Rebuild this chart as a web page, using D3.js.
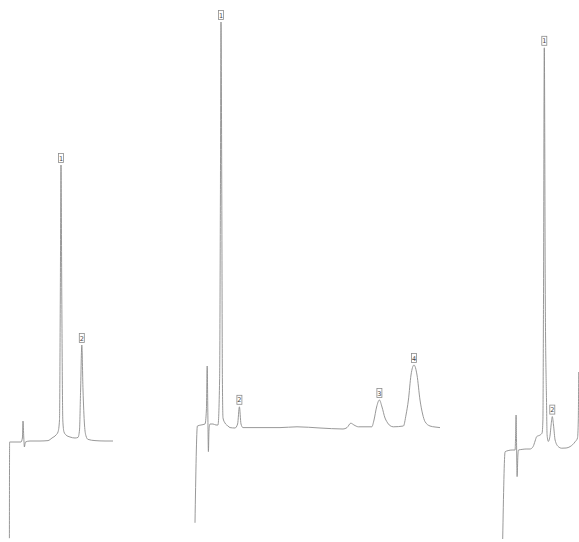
<!DOCTYPE html>
<html>
<head>
<meta charset="utf-8">
<script src="https://cdn.jsdelivr.net/npm/d3@7"></script>
<style>
  html, body { margin: 0; padding: 0; background: #fff; }
  svg { display: block; }
</style>
</head>
<body>
<div id="chart"></div>
<script>
// retention time (min) and signal (mAU)
const trace1 = [
  [0.02, -243], [0.03, -2.5], [0.30, -2.5], [0.60, -2.5], [0.67, 7.5], [0.70, 50],
  [0.74, 7.5], [0.77, -15], [0.82, -2.5], [1.05, 0], [1.55, 0], [1.95, 1],
  [2.15, 7.5], [2.35, 15], [2.45, 22.5], [2.525, 52.5], [2.565, 352.5], [2.60, 690],
  [2.64, 352.5], [2.69, 52.5], [2.75, 22.5], [2.85, 15], [3.05, 10], [3.30, 7.5],
  [3.45, 9], [3.525, 27.5], [3.58, 127.5], [3.64, 240], [3.70, 127.5], [3.775, 40],
  [3.85, 12.5], [3.95, 4], [4.30, 1], [4.80, 0], [5.20, 0]
];

const trace2 = [
  [0.00, -237], [0.12, 5], [0.30, 7.5], [0.50, 10], [0.57, 45], [0.61, 155],
  [0.64, 45], [0.67, -59], [0.70, -5], [0.75, 10], [0.90, 10], [1.05, 7.5],
  [1.15, 7.5], [1.23, 120], [1.27, 570], [1.30, 1015], [1.34, 570], [1.37, 120],
  [1.40, 25], [1.50, 12.5], [1.65, 5], [1.75, 1], [2.00, 0], [2.13, 10],
  [2.22, 53], [2.30, 10], [2.40, 1], [2.60, 1], [3.25, 1], [4.25, 1],
  [5.10, 3], [6.25, 0], [7.40, -2.5], [7.60, 1], [7.79, 12], [7.95, 7.5],
  [8.17, 3], [8.84, 3], [8.95, 20], [9.08, 52.5], [9.22, 70], [9.35, 52.5],
  [9.50, 25], [9.59, 16], [9.75, 6], [9.92, 3], [10.42, 5], [10.55, 32.5],
  [10.67, 70], [10.80, 132.5], [10.95, 157.5], [11.10, 132.5], [11.25, 70], [11.38, 35],
  [11.50, 16], [11.75, 5], [12.00, 2.5], [12.25, 1]
];

const trace3 = [
  [0.00, -225], [0.12, -7], [0.27, -4], [0.47, -2.5], [0.62, -2.5], [0.64, 22.5],
  [0.67, 85], [0.69, 22.5], [0.72, -69], [0.76, -15], [0.79, -2.5], [0.97, -1],
  [1.17, 0], [1.37, 0], [1.52, 6], [1.62, 20], [1.70, 31], [1.87, 35],
  [1.97, 40], [2.01, 72.5], [2.04, 372.5], [2.08, 1003], [2.13, 372.5], [2.19, 122.5],
  [2.22, 35], [2.28, 19], [2.37, 35], [2.42, 60], [2.48, 81], [2.54, 60],
  [2.62, 22.5], [2.78, 6], [2.95, 2], [3.17, 2.5], [3.37, 6], [3.62, 18],
  [3.74, 27.5], [3.78, 72.5], [3.80, 192.5]
];

// peak number, apex time, apex signal
const peaks1 = [["1", 2.60, 690], ["2", 3.64, 240]];
const peaks2 = [["1", 1.30, 1015], ["2", 2.22, 53], ["3", 9.22, 70], ["4", 10.95, 157.5]];
const peaks3 = [["1", 2.08, 1003], ["2", 2.48, 81]];

const width = 579, height = 542;
const pxPerMin = 20, pxPerMau = 0.4;

const panels = [
  { data: trace1, peaks: peaks1, left: 9, base: 441 },
  { data: trace2, peaks: peaks2, left: 195, base: 428 },
  { data: trace3, peaks: peaks3, left: 502.7, base: 449 }
];

const svg = d3.select("#chart").append("svg")
  .attr("width", width)
  .attr("height", height)
  .attr("viewBox", `0 0 ${width} ${height}`);

panels.forEach(p => {
  const tEnd = d3.max(p.data, d => d[0]);
  const x = d3.scaleLinear().domain([0, tEnd]).range([p.left, p.left + tEnd * pxPerMin]);
  const y = d3.scaleLinear().domain([0, 1000]).range([p.base, p.base - 1000 * pxPerMau]);

  const line = d3.line()
    .x(d => x(d[0]))
    .y(d => y(d[1]))
    .curve(d3.curveMonotoneX);

  const g = svg.append("g");

  g.append("path")
    .datum(p.data)
    .attr("fill", "none")
    .attr("stroke", "#8c8c8c")
    .attr("stroke-width", 0.9)
    .attr("stroke-linejoin", "round")
    .attr("d", line);

  // peak number labels in little boxes
  const lab = g.selectAll(".peak")
    .data(p.peaks)
    .join("g")
    .attr("class", "peak")
    .attr("transform", d => `translate(${x(d[1])},${y(d[2]) - 2})`);

  lab.append("rect")
    .attr("x", -2.5)
    .attr("y", -9.5)
    .attr("width", 5)
    .attr("height", 9)
    .attr("fill", "#fff")
    .attr("stroke", "#8c8c8c")
    .attr("stroke-width", 0.8);

  lab.append("text")
    .attr("x", 0)
    .attr("y", -2.5)
    .attr("text-anchor", "middle")
    .style("font-family", "DejaVu Sans")
    .style("font-size", "6.5px")
    .style("fill", "#444")
    .text(d => d[0]);
});
</script>
</body>
</html>
